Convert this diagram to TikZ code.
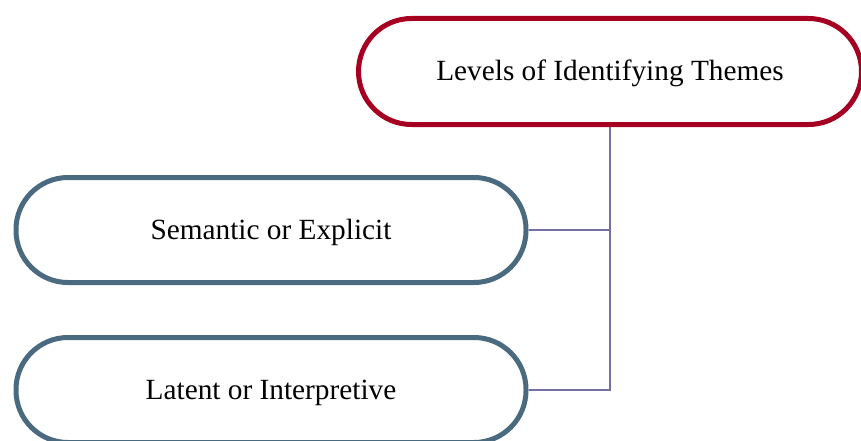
\documentclass[tikz,border=0pt]{standalone}
\usepackage{fontspec}
\setmainfont{Liberation Serif}
\usetikzlibrary{positioning}
\definecolor{themered}{HTML}{A50021}
\definecolor{levelslate}{HTML}{4A6A80}
\definecolor{linkviolet}{HTML}{7470A4}

\begin{document}
\begin{tikzpicture}[x=1pt,y=-1pt,
  topbox/.style={draw=themered, line width=5pt, fill=white, rounded corners=53pt,
    minimum width=503pt, minimum height=106pt, text height=25pt, text depth=6pt,
    font=\fontsize{29.3}{33}\selectfont},
  levelbox/.style={draw=levelslate, line width=5pt, fill=white, rounded corners=52pt,
    minimum width=510pt, minimum height=105pt, text height=25pt, text depth=6pt,
    font=\fontsize{29.3}{33}\selectfont},
  link/.style={draw=linkviolet, line width=1.5pt}]
\useasboundingbox (0,0) rectangle (861,441);

\node[topbox] (theme) at (610,71.5) {Levels of Identifying Themes};
\node[levelbox] (semantic) at (271,230) {Semantic or Explicit};
\node[levelbox] (latent) at (271,390) {Latent or Interpretive};

\draw[link] (theme.south) |- (semantic.east);
\draw[link] (theme.south) |- (latent.east);
\end{tikzpicture}
\end{document}
